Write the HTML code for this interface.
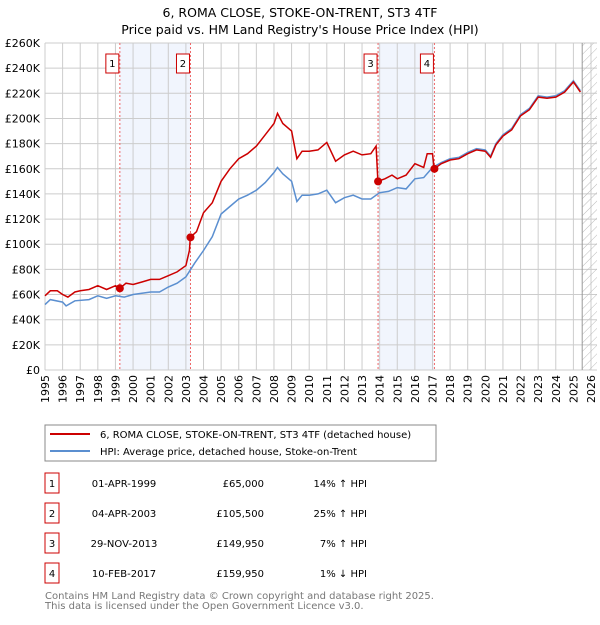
<!DOCTYPE html>
<html><head><meta charset="utf-8"><style>
body{margin:0;background:#fff;font-family:"Liberation Sans","DejaVu Sans",sans-serif;}
svg text{font-family:"DejaVu Sans","Liberation Sans",sans-serif;}
</style></head><body>
<svg id="c" width="600" height="620" xmlns="http://www.w3.org/2000/svg">
<text x="300" y="17" text-anchor="middle" font-size="12.5">6, ROMA CLOSE, STOKE-ON-TRENT, ST3 4TF</text>
<text x="300" y="34" text-anchor="middle" font-size="12.5">Price paid vs. HM Land Registry's House Price Index (HPI)</text>
<g id="plot"></g>
<rect x="45" y="425" width="391" height="36" fill="#fff" stroke="#888"/>
<line x1="50" y1="434" x2="90" y2="434" stroke="#cc0000" stroke-width="2"/>
<text x="100" y="438" font-size="10">6, ROMA CLOSE, STOKE-ON-TRENT, ST3 4TF (detached house)</text>
<line x1="50" y1="451" x2="90" y2="451" stroke="#5b8fd0" stroke-width="2"/>
<text x="100" y="455" font-size="10">HPI: Average price, detached house, Stoke-on-Trent</text>
<g id="table" font-size="10"></g>
<text x="45" y="599" font-size="10" fill="#777">Contains HM Land Registry data © Crown copyright and database right 2025.</text>
<text x="45" y="609" font-size="10" fill="#777">This data is licensed under the Open Government Licence v3.0.</text>
</svg>
<script>
const hpiT=[1995,1995.3,1996,1996.2,1996.7,1997.5,1998,1998.5,1999,1999.5,2000,2001,2001.5,2002,2002.5,2003,2003.5,2004,2004.5,2005,2005.5,2006,2006.5,2007,2007.5,2008,2008.2,2008.5,2009,2009.3,2009.6,2010,2010.5,2011,2011.5,2012,2012.5,2013,2013.5,2014,2014.5,2015,2015.5,2016,2016.5,2017,2017.5,2018,2018.5,2019,2019.5,2020,2020.3,2020.6,2021,2021.5,2022,2022.5,2023,2023.5,2024,2024.5,2025,2025.4];
const hpiV=[52,56,54,51,55,56,59,57,59,58,60,62,62,66,69,74,85,95,106,124,130,136,139,143,149,157,161,156,150,134,139,139,140,143,133,137,139,136,136,141,142,145,144,152,153,161,165,168,169,173,176,175,170,180,187,192,203,208,218,217,218,222,230,222];
const redT=[1995,1995.3,1995.7,1996,1996.3,1996.7,1997,1997.5,1998,1998.5,1999,1999.25,1999.6,2000,2000.5,2001,2001.5,2002,2002.5,2003,2003.2,2003.25,2003.6,2004,2004.5,2005,2005.5,2006,2006.5,2007,2007.5,2008,2008.2,2008.5,2009,2009.3,2009.6,2010,2010.5,2011,2011.5,2012,2012.5,2013,2013.5,2013.8,2013.9,2014.3,2014.7,2015,2015.5,2016,2016.5,2016.7,2017,2017.1,2017.5,2018,2018.5,2019,2019.5,2020,2020.3,2020.6,2021,2021.5,2022,2022.5,2023,2023.5,2024,2024.5,2025,2025.4];
const redV=[59,63,63,60,58,62,63,64,67,64,67,65,69,68,70,72,72,75,78,83,95,105.5,110,125,133,150,160,168,172,178,187,196,204,196,190,168,174,174,175,181,166,171,174,171,172,178,150,152,155,152,155,164,161,172,172,160,164,167,168,172,175,174,169,179,186,191,202,207,217,216,217,221,229,221];
const saleLabels=["1","2","3","4"];
const saleT=[1999.25,2003.26,2013.91,2017.11];
const saleV=[65,105.5,149.95,159.95];
const saleDates=["01-APR-1999","04-APR-2003","29-NOV-2013","10-FEB-2017"];
const salePrices=["£65,000","£105,500","£149,950","£159,950"];
const saleHpi=["14% ↑ HPI","25% ↑ HPI","7% ↑ HPI","1% ↓ HPI"];
const yTicks=[0,20,40,60,80,100,120,140,160,180,200,220,240,260];
const NS="http://www.w3.org/2000/svg";
const X0=45,X1=591,Y0=370,Y1=43;
const xs=t=>X0+(t-1995)*(X1-X0)/31;
const ys=v=>Y0-v*(Y0-Y1)/260;
const g=document.getElementById('plot');
function mk(tag,a,p){const e=document.createElementNS(NS,tag);for(const k in a)e.setAttribute(k,a[k]);(p||g).appendChild(e);return e;}
// shading
[[0,1],[2,3]].forEach(([a,b])=>{
 const r=mk('rect',{x:xs(saleT[a]),y:Y1,width:xs(saleT[b])-xs(saleT[a]),height:Y0-Y1,fill:'#eef3fc',opacity:0.8});
 
 
});
// grid
for(let y=1995;y<=2026;y++){
 const l=mk('line',{x1:xs(y),x2:xs(y),y1:Y1,y2:Y0,stroke:'#ccc','stroke-width':1});
 
 
 const t=mk('text',{x:0,y:0,'font-size':11,transform:`translate(${xs(y)+4},${Y0+33}) rotate(-90)`});
 t.textContent=y;
 
 
}
yTicks.forEach(v=>{
 const l=mk('line',{x1:X0,x2:X1+6,y1:ys(v),y2:ys(v),stroke:'#ccc','stroke-width':1});
 
 
 const t=mk('text',{x:X0-5,y:ys(v)+4,'font-size':11,'text-anchor':'end'});
 t.textContent=v===0?'£0':'£'+v+'K';
 
 
});
// hatch future
const defs=mk('defs',{});
const pat=mk('pattern',{id:'h',width:6,height:6,patternUnits:'userSpaceOnUse',patternTransform:'rotate(45)'},defs);
mk('line',{x1:0,y1:0,x2:0,y2:6,stroke:'#bbb','stroke-width':1},pat);
const hz=mk('rect',{x:xs(2025.5),y:Y1,width:X1+6-xs(2025.5),height:Y0-Y1,fill:'url(#h)'});


const hl=mk('line',{x1:xs(2025.5),x2:xs(2025.5),y1:Y1,y2:Y0,stroke:'#999'});


// sale vlines
saleT.forEach((t,i)=>{
 const l=mk('line',{x1:xs(t),x2:xs(t),y1:Y1,y2:Y0,stroke:'#e66','stroke-width':1,'stroke-dasharray':'2,2'});
 
 
 const b=mk('rect',{x:xs(t)-14,y:54,width:13,height:19,fill:'#fff',stroke:'#c00'});
 
 
 const tx=mk('text',{x:xs(t)-7.5,y:67,'font-size':10,'text-anchor':'middle'});
 tx.textContent=saleLabels[i];
 
 
});
function line(T,V,col,name){
 const d=T.map((t,i)=>(i?'L':'M')+xs(t).toFixed(1)+','+ys(V[i]).toFixed(1)).join('');
 const p=mk('path',{d:d,fill:'none',stroke:col,'stroke-width':1.5});
 
 
}
line(hpiT,hpiV,'#5b8fd0','hpi-line');
line(redT,redV,'#cc0000','property-price-line');
saleT.forEach((t,i)=>{
 const c=mk('circle',{cx:xs(t),cy:ys(saleV[i]),r:4,fill:'#cc0000'});
 
 
});
// table
const tb=document.getElementById('table');
saleLabels.forEach((s,i)=>{
 const y=483+i*30;
 const b=mk('rect',{x:45,y:y-10,width:14,height:20,fill:'#fff',stroke:'#c00'},tb);
 
 
 const cells=[[52,s,'middle'],[124,saleDates[i],'middle'],[264,salePrices[i],'end'],[367,saleHpi[i],'end']];
 cells.forEach(([x,txt,a])=>{
  const t=mk('text',{x:x,y:y+4,'text-anchor':a},tb);
  t.textContent=txt;
  
  
 });
});
</script>
</body></html>
